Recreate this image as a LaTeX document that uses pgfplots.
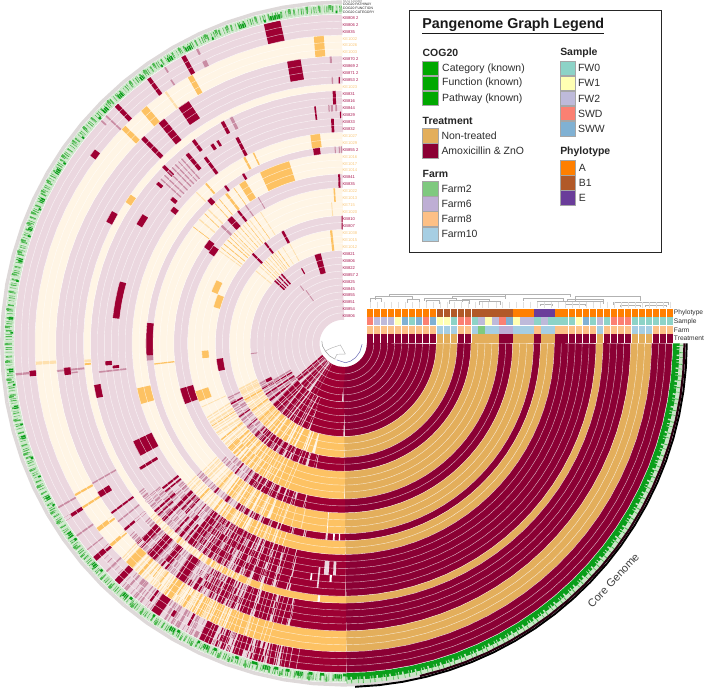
\documentclass[border=0pt]{standalone}
\usepackage{pgfplots}
\pgfplotsset{compat=1.18}
\usepackage{pgfplotstable}
\usepackage{fontspec}
\setmainfont{Liberation Sans}
\definecolor{mar}{HTML}{9E0033}
\definecolor{lm}{HTML}{C98CA3}
\definecolor{ora}{HTML}{FDC263}
\definecolor{lo}{HTML}{FEE0AE}
\definecolor{pk}{HTML}{EBD7DF}
\definecolor{cr}{HTML}{FFF5E5}
\definecolor{cmar}{HTML}{8B0034}
\definecolor{cora}{HTML}{E3AE5B}
\definecolor{gd}{HTML}{0A9E1A}
\definecolor{gm}{HTML}{4DB850}
\definecolor{gl}{HTML}{C9E6C6}
\definecolor{gb}{HTML}{EDF3EC}
\definecolor{rim}{HTML}{DED9D9}
\definecolor{s0}{HTML}{8DD3C7}
\definecolor{s1}{HTML}{FFFFB3}
\definecolor{s2}{HTML}{BEBADA}
\definecolor{s3}{HTML}{FB8072}
\definecolor{s4}{HTML}{80B1D3}
\definecolor{f2}{HTML}{7FC97F}
\definecolor{f6}{HTML}{BEAED4}
\definecolor{f8}{HTML}{FDC086}
\definecolor{f0}{HTML}{A6CEE3}
\definecolor{pa}{HTML}{FF7F00}
\definecolor{pb}{HTML}{B15928}
\definecolor{pe}{HTML}{6A3D9A}
\definecolor{kbc}{HTML}{A8164F}
\definecolor{kec}{HTML}{F9C77A}
\definecolor{tx}{HTML}{2E2E2E}
\pgfplotstableread[row sep=\\]{t\\90.2\\94\\98\\102\\106\\110\\114\\118\\122\\126\\130\\134\\138\\142\\146\\150\\154\\158\\162\\166\\170\\174\\178\\182\\186\\190\\194\\198\\202\\206\\210\\214\\218\\222\\226\\230\\234\\238\\242\\246\\250\\254\\258\\262\\266\\270\\272\\}\angA
\pgfplotstableread[row sep=\\]{t\\270.6\\274\\278\\282\\286\\290\\294\\298\\302\\306\\310\\314\\318\\322\\326\\330\\334\\338\\342\\346\\350\\354\\358\\360\\}\angB
\pgfplotstableread[row sep=\\]{t\\272\\276\\280\\284\\288\\292\\296\\300\\304\\308\\312\\316\\320\\324\\328\\332\\336\\340\\344\\348\\352\\356\\360\\}\angD
\pgfplotstableread[row sep=\\]{t\\283\\287\\291\\295\\299\\303\\307\\311\\315\\319\\323\\327\\331\\335\\339\\343\\347\\351\\355\\360\\}\angE
\pgfplotstableread[row sep=\\]{t\\90.2\\94\\98\\102\\106\\110\\114\\118\\122\\126\\130\\134\\138\\142\\146\\150\\154\\158\\162\\166\\170\\174\\178\\182\\186\\190\\194\\198\\202\\206\\210\\214\\218\\222\\226\\230\\234\\238\\242\\246\\250\\254\\258\\262\\266\\270\\274\\278\\282\\286\\290\\294\\298\\302\\306\\310\\314\\318\\322\\326\\330\\334\\338\\342\\346\\350\\354\\358\\360\\}\angF
\pgfplotsset{seg/.style={forget plot,no markers,data cs=polar}}
\def\pA{on 1.1pt off 1.6pt on 0.6pt off 2.3pt on 1.8pt off 1.2pt on 0.5pt off 3pt}
\def\pB{on 0.7pt off 2.1pt on 1.3pt off 0.9pt on 0.5pt off 1.7pt on 2.2pt off 1.5pt on 0.8pt off 4pt}
\def\pC{on 0.5pt off 3.2pt on 0.9pt off 5.1pt on 0.6pt off 2.2pt on 1.2pt off 7pt}
\def\pD{on 1.6pt off 0.8pt on 0.9pt off 1.1pt on 2.4pt off 0.7pt on 0.6pt off 1.3pt}
\def\pE{on 0.4pt off 4.3pt on 0.6pt off 6.7pt on 0.4pt off 3.1pt}
% one block of rings #1..#2, colour #3, list of angle spans #4
\newcommand\rband[4]{%
 \pgfmathsetmacro\rr{23.5+6.9*(#1+#2+1)/2}%
 \pgfmathsetmacro\ww{6.9*(#2-#1+1)}%
 \rawarc{\rr}{\ww}{#3}{#4}}
\newcommand\rawarc[4]{%
 \foreach \ta/\tb in {#4}{%
  \pgfmathsetmacro\ma{\ta+(\tb-\ta)/4}%
  \pgfmathsetmacro\mb{\ta+(\tb-\ta)/2}%
  \pgfmathsetmacro\mc{\ta+3*(\tb-\ta)/4}%
  \pgfmathparse{(\tb-\ta)>3?1:0}%
  \ifnum\pgfmathresult=1
   \edef\tmp{\noexpand\addplot[seg,draw=#3,line width=#2pt] coordinates {(\ta,#1)(\ma,#1)(\mb,#1)(\mc,#1)(\tb,#1)};}\tmp
  \else
   \edef\tmp{\noexpand\addplot[seg,draw=#3,line width=#2pt] coordinates {(\ta,#1)(\tb,#1)};}\tmp
  \fi}}
% fine radial texture over a span: rings #1..#2, colour #3, pattern #4, span #5/#6
\newcommand\hband[6]{%
 \pgfmathsetmacro\rr{23.5+6.9*(#1+#2+1)/2}%
 \pgfmathsetmacro\ww{6.9*(#2-#1+1)}%
 \hraw{\rr}{\ww}{#3}{#4}{#5}{#6}}
\newcommand\hraw[6]{%
 \pgfmathsetmacro\ma{#5+(#6-#5)/4}%
 \pgfmathsetmacro\mb{#5+(#6-#5)/2}%
 \pgfmathsetmacro\mc{#5+3*(#6-#5)/4}%
 \edef\tmp{\noexpand\addplot[seg,draw=#3,line width=#2pt,dash pattern=#4] coordinates {(#5,#1)(\ma,#1)(\mb,#1)(\mc,#1)(#6,#1)};}\tmp}
\newcommand\base[4]{%
 \pgfmathsetmacro\rr{23.5+6.9*(#1+#2+1)/2}%
 \pgfmathsetmacro\ww{6.9*(#2-#1+1)}%
 \edef\tmp{\noexpand\addplot[seg,draw=#3,line width=\ww pt] table[x=t,y=t,y expr=\rr]{\noexpand\angA};}\tmp
 \edef\tmp{\noexpand\addplot[seg,draw=#4,line width=\ww pt] table[x=t,y=t,y expr=\rr]{\noexpand\angB};}\tmp}
\newcommand\cellrow[2]{\foreach \c [count=\i from 0] in {#2}{%
  \pgfmathsetmacro\xa{368.2+6.92*\i}\pgfmathsetmacro\xb{\xa+6.4}%
  \edef\tmp{\noexpand\addplot[forget plot,no markers,draw=\c,line width=8pt] coordinates {(\xa,#1)(\xb,#1)};}\tmp}}
\newcommand\kb[2]{\node[anchor=west,inner sep=0pt,font=\fontsize{4.1}{4.1}\selectfont,text=kbc] at (343.7,#1) {#2};}
\newcommand\ke[2]{\node[anchor=west,inner sep=0pt,font=\fontsize{4.1}{4.1}\selectfont,text=kec] at (343.7,#1) {#2};}
\newcommand\sw[5]{\draw[fill=#5,draw=black!35,line width=.6pt] (#1,#2) rectangle (#3,#4);}
\newcommand\lt[3]{\node[anchor=west,inner sep=0pt,font=\fontsize{10.4}{11}\selectfont,text=tx] at (#1,#2) {#3};}
\newcommand\lh[3]{\node[anchor=west,inner sep=0pt,font=\fontsize{10.4}{11}\selectfont\bfseries,text=black!85] at (#1,#2) {#3};}
\newcommand\br[4]{\addplot[forget plot,no markers,draw=black!30,line width=.35pt] coordinates {(#1,#4)(#1,#3)(#2,#3)(#2,#4)};}
\begin{document}
\begin{tikzpicture}
\begin{axis}[at={(0pt,0pt)},anchor=south west,scale only axis,width=704pt,height=690pt,
  xmin=-344.5,xmax=359.5,ymin=-347.5,ymax=342.5,hide axis]
% base rings: pale where absent, dark in the core
\base{0}{9}{pk}{cmar}
\base{10}{12}{cr}{cora}
\base{13}{14}{pk}{cmar}
\base{15}{18}{cr}{cora}
\base{19}{20}{pk}{cmar}
\base{21}{23}{cr}{cora}
\base{24}{24}{pk}{cmar}
\base{25}{26}{cr}{cora}
\base{27}{32}{pk}{cmar}
\base{33}{33}{cr}{cora}
\base{34}{37}{pk}{cmar}
\base{38}{40}{cr}{cora}
\base{41}{43}{pk}{cmar}
% fine texture of the shell genome, group by group
\hband{43}{43}{lm}{\pC}{226}{248}\hband{42}{42}{lm}{\pE}{222}{246}\hband{41}{41}{lm}{\pC}{228}{250}
\hband{43}{43}{mar}{\pA}{246}{259}\hband{42}{42}{mar}{\pB}{244}{259}\hband{41}{41}{mar}{\pA}{247}{259}
\hband{38}{40}{lo}{\pA}{224}{252}\hband{38}{39}{ora}{\pC}{230}{246}\hband{40}{40}{ora}{\pE}{232}{246}\hband{38}{40}{ora}{\pB}{240}{252}
\hband{37}{37}{lm}{\pB}{222}{248}\hband{36}{36}{lm}{\pA}{224}{248}\hband{35}{35}{lm}{\pB}{224}{250}\hband{34}{34}{lm}{\pA}{222}{248}
\hband{37}{37}{mar}{\pA}{236}{260}\hband{36}{36}{mar}{\pD}{240}{260}\hband{35}{35}{mar}{\pB}{238}{260}\hband{34}{34}{mar}{\pA}{240}{260}
\hband{33}{33}{lo}{\pB}{222}{252}\hband{33}{33}{ora}{\pA}{238}{252}
\hband{32}{32}{lm}{\pA}{216}{245}\hband{31}{31}{lm}{\pB}{218}{245}\hband{30}{30}{lm}{\pA}{218}{245}\hband{29}{29}{lm}{\pB}{220}{245}\hband{28}{28}{lm}{\pA}{222}{245}\hband{27}{27}{lm}{\pB}{220}{245}
\hband{32}{32}{mar}{\pA}{232}{258}\hband{31}{31}{mar}{\pD}{234}{258}\hband{30}{30}{mar}{\pB}{232}{258}\hband{29}{29}{mar}{\pD}{234}{258}\hband{28}{28}{mar}{\pA}{232}{258}\hband{27}{27}{mar}{\pD}{236}{258}
\hband{25}{26}{lo}{\pA}{222}{251}\hband{25}{26}{ora}{\pB}{234}{251}
\hband{24}{24}{lm}{\pB}{222}{250}\hband{24}{24}{mar}{\pA}{238}{260}
\hband{21}{23}{lo}{\pB}{222}{247}\hband{21}{23}{ora}{\pA}{232}{247}
\hband{20}{20}{lm}{\pA}{224}{245}\hband{19}{19}{lm}{\pB}{226}{245}\hband{20}{20}{mar}{\pD}{236}{257}\hband{19}{19}{mar}{\pA}{236}{257}
\hband{15}{18}{lo}{\pA}{208}{244}\hband{17}{18}{ora}{\pB}{222}{244}\hband{15}{16}{ora}{\pA}{224}{244}
\hband{14}{14}{lm}{\pB}{206}{240}\hband{13}{13}{lm}{\pA}{208}{240}\hband{14}{14}{mar}{\pA}{226}{258}\hband{13}{13}{mar}{\pD}{228}{258}
\hband{10}{12}{lo}{\pD}{203}{240}\hband{10}{12}{ora}{\pA}{222}{255}
\hband{8}{9}{lm}{\pD}{205}{235}\hband{5}{7}{lm}{\pD}{207}{235}\hband{8}{9}{mar}{\pD}{222}{248}\hband{5}{7}{mar}{\pD}{220}{248}
% rings 41-43
\rband{41}{43}{lm}{185.2/185.6,209.8/210.1,215.7/216,218.8/219,223.8/224.1,228.5/228.8,230.6/230.9,231.8/232,237/237.3,238.3/238.6,239.5/240,242/242.4,136/136.3}
\rband{41}{43}{mar}{101/104,118.7/119.5,125.9/126.6,133.2/134,212/212.6,220.5/221.4,226/227.1,233/233.4,234.3/236,241/241.4,244/246.2,248/248.7,250.3/252.7,254/255.4,256.5/258,258.8/270.6}
\rband{41}{41}{mar}{142/143.4,185/186}
\rband{41}{41}{lm}{115.8/116.6,123/123.3,229.6/230.2}
\rband{43}{43}{lm}{116.2/116.6,122.7/123,137.2/137.5,243/243.6}
\rband{42}{42}{mar}{237.6/238.2,247.6/248}
\rband{43}{43}{pk}{212/212.6,233/233.4,241/241.4,252/252.7}
\rband{41}{41}{pk}{220.5/220.9,254.6/255.1}
% rings 38-40
\rband{38}{40}{lo}{125/125.4,183.4/184}
\rband{38}{40}{ora}{93.6/95.5,119.3/120.3,129.6/131,135/136,209.3/209.7,212/212.4,216.8/217.6,220.7/221.3,225.2/226.8,228.3/228.8,234.5/236.1,238.5/239,242/242.6,245/245.8,248/251,251.6/270.6}
\rband{38}{38}{cr}{216.8/217.2,220.7/221,238.5/238.8}
% rings 34-37
\rband{35}{37}{mar}{98.5/101.3,122.5/125}
\rband{37}{37}{lm}{92.3/92.7}
\rband{34}{34}{lm}{92.2/92.5}
\rband{34}{34}{mar}{90.7/91,150.2/152.8}
\rband{34}{37}{lm}{185.3/185.7,209/209.3,218.2/218.5}
\rband{34}{37}{mar}{128.5/130,133.8/134.7,216/216.4,220.2/220.7,224/225.5,227/229,230.5/232,234.3/236.5,238.5/239.2,241/241.6,244/245.2,246.8/247.4,248.8/251,252/255,255.8/258.6,259.4/270.6}
\rband{36}{37}{mar}{211.2/212.4}
\rband{36}{36}{mar}{185/186.5}
\rband{35}{35}{lm}{186/186.3}
\rband{34}{35}{pk}{220.2/220.7,238.5/239.2,246.8/247.2}
\rband{37}{37}{pk}{224.4/225,231/231.5,241/241.6}
% ring 33
\rband{33}{33}{lo}{183.6/184.2}
\rband{33}{33}{ora}{145/147,184.4/184.8,230/230.4,236/236.4,238.2/238.6,242.5/243,246/247.5,249/251,252/270.6}
\rband{33}{33}{white}{264.3/264.8}
% rings 27-32
\rband{31}{32}{mar}{91.7/92.4,118.2/119,126/126.8,135/135.8}
\rband{31}{32}{lm}{116/116.7}
\rband{30}{30}{lm}{91.5/91.9,92.5/93,93.3/93.6}
\rband{29}{30}{mar}{96.6/97}
\rband{29}{29}{mar}{90.5/90.8,164.5/173.7,185.5/186.2}
\rband{27}{28}{mar}{92.4/93.1}
\rband{29}{31}{mar}{129/129.9}
\rband{30}{30}{mar}{121.5/122.1,123/123.8,147.2/150,184.3/185.3}
\rband{27}{29}{mar}{116.9/117.7,126.2/127,205/209}
\rband{28}{31}{lm}{131/131.3,132/132.2,133/133.3,134/134.3,135.3/135.6,136.6/136.9,137.8/138.1,186.5/186.9}
\rband{27}{27}{mar}{141.1/142.5}
\rband{28}{28}{mar}{139.3/140.3}
\rband{31}{31}{mar}{138.8/139.6}
\rband{32}{32}{mar}{189.5/192.5}
\rband{28}{30}{mar}{211.3/212}
\rband{27}{32}{mar}{218.5/219,221.5/222,224/224.8,226.8/227.4,229.5/230.2,232/233.5,235.2/235.8,237.8/238.4,240/241,242.5/243.3,244.6/245.6,246.8/248,249/250.6,251.6/253.5,254.4/257,257.8/270.6}
\rband{30}{32}{pk}{218.5/219,226.8/227.4,235.4/235.8,242.7/243.3}
\rband{27}{28}{pk}{221.5/222,229.7/230.2,237.8/238.2,246.9/247.4}
\rband{27}{29}{mar}{219.6/220,225.6/226,234.1/234.5,241.5/241.9,246.1/246.4}
\rband{30}{32}{mar}{222.7/223,228.1/228.5,231.1/231.5,236.4/236.9}
\rband{28}{29}{pk}{265.2/266.4,267.5/268.2}
\rband{29}{31}{pk}{263.8/264.2}
\rband{30}{30}{white}{262/262.4,266.7/267.2}
% rings 25-26
\rband{25}{26}{lo}{134/134.3}
\rband{25}{26}{ora}{96.3/99,115/115.4,117.7/118.3,130.4/130.9,192.3/196.7,227/227.5,232/232.6,236.5/237,240/241,243/244.6,246/247.4,248.6/250,251/270.6}
% ring 24
\rband{24}{24}{lm}{90.4/90.7,91/91.3,92.2/92.5,183.5/185}
\rband{24}{24}{mar}{96.8/98.8,120.2/120.9,126.5/127.2,132.2/133.6,174/183.5,229/229.5,233/233.8,236.8/237.6,240/240.6,243/243.8,245.8/247,248.4/250,251.4/254,255.3/258,259/270.6}
\rband{24}{24}{white}{267/267.5,268.7/269.1}
\rband{24}{24}{pk}{264.8/265.4}
% rings 21-23
\rband{21}{23}{lo}{135/135.4,139/139.4}
\rband{21}{23}{ora}{106.5/116,121/123.2,125/125.2,127.6/128.4,130.6/130.8,132.4/132.6,136.8/137,142/142.2,186/186.4,229/229.5,233/233.6,237/237.5,240/240.8,242.6/243.5,245/246.3,247.2/270.6}
\rband{21}{23}{lo}{251/251.3,254/254.2,257/257.3}
\rband{21}{23}{white}{265/265.2}
% rings 19-20
\rband{20}{20}{mar}{142.3/145.3}
\rband{19}{19}{mar}{143/146}
\rband{19}{20}{lm}{125/125.4,135.5/136.3,120/120.3}
\rband{19}{20}{mar}{91/91.7,128/128.8,131.2/133.2,195.5/201,230/230.5,234/234.4,236.5/237.3,239.4/240.2,241.8/243,244.3/245.8,247/248.5,249.6/252.2,253.2/256,256.9/270.6}
% rings 15-18
\rband{17}{18}{ora}{93/93.6,198/202}
\rband{15}{16}{lo}{94.5/94.9}
\rband{16}{16}{ora}{153.5/158.5,183/186}
\rband{15}{15}{ora}{158.7/164.3}
\rband{15}{18}{lo}{122/122.3,127/127.3,130/130.3,133/133.3,135.5/135.8,143/143.3,204/204.3}
\rband{15}{18}{ora}{125/125.2,128.6/128.8,131.5/131.7,134.6/134.8,136.8/137,138/138.3,140/140.3,141.8/142,212/212.3,218/218.5,222.3/223,226/226.8,229/230,232.2/233.6,235.5/236.7,238/239.5,240.8/242.6,243.7/270.6}
% rings 13-14
\rband{14}{14}{mar}{187/192.5}
\rband{13}{14}{lm}{205/205.6,212/212.4}
\rband{13}{14}{mar}{90.3/90.7,117.8/119,127.4/128.3,134.8/135.8,208/208.7,215/215.5,221/221.6,226.5/227.2,230/230.8,233.2/234.4,236.4/237.6,239.5/241,242.6/244.5,246/248.4,249.8/252.5,254/256.6,257.8/270.6}
% rings 10-12
\rband{10}{12}{lo}{118/118.4,122/122.3,128/128.4,131/131.4,134/134.4,137/137.4,140/140.5,205/205.6}
\rband{10}{12}{ora}{95.5/96.7,125/125.3,127/127.2,129.5/129.7,133/133.2,135.6/135.8,209.5/210.3,216/216.7,222/223,226/227,230/231.3,234/235.5,237.5/239.8,241.6/244.5,246/249,250.6/254,255.4/270.6}
% rings 0-9
\rband{7}{9}{mar}{104/108}
\rband{8}{9}{mar}{131.2/132.2,133.5/134.2,135.6/136.2,137/138}
\rband{8}{8}{mar}{118.6/119.4,205/207}
\rband{6}{6}{lm}{126.3/127}
\rband{4}{5}{lm}{124.6/125.4}
\rband{9}{9}{lm}{186/186.6}
\rband{5}{9}{mar}{209/210,213/214,217/218.5,221/222.5,224.5/226.5,228.5/231,233/236,237.8/241,242.6/247,248.4/270.6}
\rband{0}{4}{mar}{214/270.6}
\rband{0}{4}{lm}{217.5/218,220/220.6,223/223.4,226/226.5,229/229.5,232/232.4,235/235.3,238/238.3,242/242.3}
% thin pale rays through the blocks of the shell
\hband{41}{43}{pk}{\pE}{240}{262}\hband{34}{37}{pk}{\pE}{224}{258}\hband{27}{32}{pk}{\pE}{224}{256}
\hband{19}{20}{pk}{\pE}{228}{254}\hband{13}{14}{pk}{\pE}{214}{254}\hband{5}{9}{pk}{\pC}{209}{246}\hband{0}{4}{pk}{\pC}{216}{240}
\hband{38}{40}{cr}{\pE}{228}{256}\hband{25}{26}{cr}{\pE}{230}{254}\hband{21}{23}{cr}{\pE}{230}{252}\hband{15}{18}{cr}{\pE}{224}{250}\hband{10}{12}{cr}{\pC}{226}{252}
% COG rows
\rawarc{332.2}{9.6}{gb}{90.2/110,110/130,130/150,150/170,170/190,190/210,210/230,230/250,250/271}
\addplot[seg,draw=gl,line width=9.4pt,dash pattern=on 0.6pt off 0.5pt on 1pt off 0.4pt on 0.5pt off 0.8pt] table[x=t,y=t,y expr=332.2]{\angA};
\addplot[seg,draw=gm,line width=6pt,dash pattern=on 0.6pt off 1.1pt on 1pt off 2pt on 0.5pt off 3.4pt on 1.6pt off 2.6pt] table[x=t,y=t,y expr=332.5]{\angA};
\rawarc{334}{5}{gm}{92/92.5,94/94.3,96/96.4,99/99.4,105/105.3,110/110.3,112/112.4,114/114.4,119/119.3,124/124.4,126/126.3,129/129.3,134/134.3,138/138.3,140/140.4,143/143.3,146/146.5,151/151.3,153/153.3,157/157.4,159/159.3,162/162.3,164/164.4,168/168.3,171/171.3,174/174.3,177/177.4,180/180.3,183/183.3,186/186.4,189/189.3,193/193.3,199/199.4,202/202.3,205/205.4,210/210.4,212/212.3,217/217.4,219/219.3,224/224.4,226/226.5,231/231.4,233/233.3,236/236.4,241/241.3,243/243.4,248/248.4,250/250.3,253/253.3,259/259.3,264/264.4,267/267.3}
\rawarc{331}{4.4}{gd}{100.8/102.8,107/108.2,117/118.2,120.8/121.8,126.7/127.5,131.3/132.4,135/136,148.3/149.4,154.2/155,159.6/160.2,165.2/166,175.4/176,184.3/185,190.7/191.3,196/196.7,207.2/208,214.5/215.5,221.2/222.2,228.6/229.6,238.6/239.6,245.2/246.2,256/257.2,261.8/263,268.5/269.8}
\addplot[seg,draw=gl,line width=5pt,dash pattern=on 0.4pt off 2pt on 0.3pt off 1.4pt] table[x=t,y=t,y expr=331]{\angA};
\rawarc{329.5}{2.6}{gd}{91/91.3,103.5/103.8,113/113.3,123/123.3,137/137.4,141.5/141.8,147/147.3,156/156.3,161/161.3,169/169.3,178/178.3,187/187.3,194/194.3,200/200.4,203.5/203.8,209/209.3,216/216.4,223/223.4,230/230.5,235/235.4,240/240.5,244/244.4,247/247.6,251/251.6,254/255,258/258.7,260/260.7,264/264.7,266/266.7,270/270.6}
\rawarc{339.2}{3.6}{rim}{90.2/110,110/130,130/150,150/170,170/190,190/210,210/230,230/250,250/270,270/283}
% core side of the COG rows
\addplot[seg,draw=gd,line width=7pt] table[x=t,y=t,y expr=331]{\angB};
\addplot[seg,draw=gl,line width=3pt,dash pattern=on 0.8pt off 3pt on 1.5pt off 5pt on 0.6pt off 2pt] table[x=t,y=t,y expr=333]{\angB};
\addplot[seg,draw=gl,line width=3.8pt] table[x=t,y=t,y expr=336.2]{\angB};
\addplot[seg,draw=gm,line width=3.8pt,dash pattern=on 0.5pt off 4pt on 0.8pt off 6.3pt] table[x=t,y=t,y expr=336.2]{\angB};
\addplot[seg,draw=black!70!cmar,line width=2.2pt] table[x=t,y=t,y expr=339.2]{\angE};
\addplot[seg,draw=black,line width=1.9pt] table[x=t,y=t,y expr=341.4]{\angD};
% ring separators
\foreach \q in {1,...,44}{%
 \pgfmathsetmacro\rs{23.5+6.9*\q}%
 \edef\tmp{\noexpand\addplot[seg,draw=white,line width=.42pt,opacity=.7] table[x=t,y=t,y expr=\rs]{\noexpand\angF};}\tmp}
\end{axis}
\begin{axis}[at={(0pt,0pt)},anchor=south west,scale only axis,width=704pt,height=690pt,
  xmin=0,xmax=704,ymin=0,ymax=690,y dir=reverse,hide axis,clip=false]
% inner dendrogram
\addplot[forget plot,no markers,draw=black!40,line width=.5pt] coordinates {(323.3,340)(323.9,345)(326.7,350)(331,355)(336.7,358.3)};
\addplot[forget plot,no markers,draw=blue!50!black!60,line width=.5pt] coordinates {(338,358.8)(346.7,361.7)(352,360)(356.7,356.7)(361,351)(363.3,343.3)};
\addplot[forget plot,no markers,draw=black!30,line width=.45pt] coordinates {(326.7,350)(333,347)(341.7,344)(346.7,353)(338.3,353.3)(336,358)};
% gene-cluster tree over the columns
\br{390}{505}{293.3}{296}
\br{376.7}{413}{296}{299}
\br{371}{382}{298}{301}
\br{408}{420}{299}{302}
\br{425}{457}{297.3}{300}
\br{427}{440}{300}{303}
\br{450}{470}{300}{303}
\br{453}{505}{296}{298}
\br{463}{490}{298.5}{301}
\br{480}{500}{301}{304}
\br{505}{570}{293.8}{296}
\br{523}{563}{297.3}{300}
\br{537}{603}{300.7}{303}
\br{540}{552}{303}{305}
\br{565}{585}{303.3}{305}
\br{567}{603}{299}{301}
\br{613}{667}{301.7}{304}
\br{620}{640}{304}{306}
\br{645}{665}{304}{306}
\br{575}{640}{296}{300}
\foreach \xc in {371.4,378.3,385.2,392.2,399.1,406,412.9,419.8,426.8,433.7,440.6,447.5,454.4,461.4,468.3,475.2,482.1,489,496,502.9,509.8,516.7,523.6,530.6,537.5,544.4,551.3,558.2,565.2,572.1,579,585.9,592.8,599.8,606.7,613.6,620.5,627.4,634.4,641.3,648.2,655.1,662,669}{%
 \edef\tmp{\noexpand\addplot[forget plot,no markers,draw=black!12,line width=.3pt] coordinates {(\xc,301)(\xc,307.5)};}\tmp}
% column annotation rows
\cellrow{312}{pa,pa,pa,pa,pa,pa,pa,pa,pa,pa,pb,pb,pb,pb,pb,pb,pb,pb,pb,pb,pb,pa,pa,pa,pe,pe,pe,pa,pa,pa,pa,pa,pa,pa,pa,pa,pa,pa,pa,pa,pa,pa,pa,pa}
\cellrow{320.6}{s3,s2,s2,s2,s1,s4,s0,s4,s3,s4,s1,s1,s0,s3,s3,s0,s2,s1,s2,s3,s4,s1,s2,s2,s0,s2,s0,s0,s0,s0,s1,s4,s0,s2,s0,s3,s3,s3,s0,s0,s0,s0,s0,s0}
\cellrow{329.2}{f8,f8,f8,f8,f8,f8,f8,f8,f8,f8,f0,f0,f0,f8,f8,f0,f2,f0,f0,f6,f6,f0,f0,f0,f8,f0,f0,f8,f8,f8,f8,f8,f8,f0,f8,f8,f8,f8,f0,f0,f0,f8,f8,f8}
\cellrow{337.6}{cmar,cmar,cmar,cmar,cmar,cmar,cmar,cmar,cmar,cmar,cora,cora,cora,cmar,cmar,cora,cora,cora,cora,cmar,cmar,cora,cora,cora,cmar,cora,cora,cmar,cmar,cmar,cmar,cmar,cmar,cora,cmar,cmar,cmar,cmar,cora,cora,cora,cmar,cmar,cmar}
\node[anchor=west,inner sep=0pt,font=\fontsize{6.6}{7}\selectfont,text=tx] at (673,312) {Phylotype};
\node[anchor=west,inner sep=0pt,font=\fontsize{6.6}{7}\selectfont,text=tx] at (673,320.6) {Sample};
\node[anchor=west,inner sep=0pt,font=\fontsize{6.6}{7}\selectfont,text=tx] at (673,329.2) {Farm};
\node[anchor=west,inner sep=0pt,font=\fontsize{6.6}{7}\selectfont,text=tx] at (673,337.6) {Treatment};
% genome names
\kb{18.9}{KB808 2}\kb{25.8}{KB806 2}\kb{32.7}{KB835}
\ke{39.6}{KE1002}\ke{46.5}{KE1026}\ke{53.4}{KE1003}
\kb{60.3}{KB870 2}\kb{67.2}{KB869 2}\kb{74.1}{KB871 2}\kb{81}{KB853 2}
\ke{87.9}{KE1023}
\kb{94.8}{KB831}\kb{101.7}{KB816}\kb{108.6}{KB844}\kb{115.5}{KB829}\kb{122.4}{KB833}\kb{129.3}{KB832}
\ke{136.2}{KE1027}\ke{143.1}{KE1029}
\kb{150}{KB855 2}
\ke{156.9}{KE1016}\ke{163.8}{KE1017}\ke{170.7}{KE1014}
\kb{177.6}{KB841}\kb{184.5}{KB835}
\ke{191.4}{KE1022}\ke{198.3}{KE1013}\ke{205.2}{KE715}\ke{212.1}{KE1020}
\kb{219}{KB810}\kb{225.9}{KB807}
\ke{232.8}{KE1038}\ke{239.7}{KE1015}\ke{246.6}{KE1012}
\kb{253.5}{KB821}\kb{260.4}{KB806}\kb{267.3}{KB822}\kb{274.2}{KB857 2}\kb{281.1}{KB825}\kb{288}{KB845}\kb{294.9}{KB855}\kb{301.8}{KB851}\kb{308.7}{KB854}\kb{315.6}{KB806}
\node[anchor=west,inner sep=0pt,font=\fontsize{3.4}{3.4}\selectfont,text=black!55] at (344,2.5) {SCG Cluster};
\node[anchor=west,inner sep=0pt,font=\fontsize{3.4}{3.4}\selectfont,text=black!85] at (344,6) {COG20 PATHWAY};
\node[anchor=west,inner sep=0pt,font=\fontsize{3.4}{3.4}\selectfont,text=black!85] at (344,9.6) {COG20 FUNCTION};
\node[anchor=west,inner sep=0pt,font=\fontsize{3.4}{3.4}\selectfont,text=black!85] at (344,13.2) {COG20 CATEGORY};
\node[rotate=47,inner sep=0pt,font=\fontsize{11}{12}\selectfont,text=black!75] at (613,578) {Core Genome};
% legend
\draw[draw=black!85,line width=.9pt,fill=white] (410,11.7) rectangle (660.7,251.7);
\node[anchor=west,inner sep=0pt,font=\fontsize{14.2}{15}\selectfont\bfseries,text=black!90] at (423,27) {\underline{Pangenome Graph Legend}};
\lh{423.3}{54}{COG20}
\sw{423.3}{61.7}{439}{76}{green!66!black}\sw{423.3}{76.7}{439}{91}{green!66!black}\sw{423.3}{91.7}{439}{106}{green!66!black}
\lt{442.7}{69.3}{Category (known)}\lt{442.7}{84}{Function (known)}\lt{442.7}{99}{Pathway (known)}
\lh{423.3}{121.7}{Treatment}
\sw{423.3}{128.3}{438.7}{143.3}{cora}\sw{423.3}{144}{438.7}{158.3}{cmar}
\lt{442}{136}{Non-treated}\lt{442}{151.5}{Amoxicillin \& ZnO}
\lh{423.3}{174}{Farm}
\sw{423.3}{181.7}{438.7}{196}{f2}\sw{423.3}{196.7}{438.7}{211}{f6}\sw{423.3}{211.7}{438.7}{226}{f8}\sw{423.3}{226.7}{438.7}{241}{f0}
\lt{442}{189}{Farm2}\lt{442}{204}{Farm6}\lt{442}{219}{Farm8}\lt{442}{234}{Farm10}
\lh{560}{54}{Sample}
\sw{560}{61.7}{575}{76}{s0}\sw{560}{76.7}{575}{91}{s1}\sw{560}{91.7}{575}{106}{s2}\sw{560}{106.7}{575}{121}{s3}\sw{560}{121.7}{575}{136.5}{s4}
\lt{577.7}{69}{FW0}\lt{577.7}{84}{FW1}\lt{577.7}{99}{FW2}\lt{577.7}{114}{SWD}\lt{577.7}{129}{SWW}
\lh{560}{151.7}{Phylotype}
\sw{560}{160.7}{575}{175}{pa}\sw{560}{175.7}{575}{190}{pb}\sw{560}{190.7}{575}{205}{pe}
\lt{578.5}{168}{A}\lt{578.5}{183}{B1}\lt{578.5}{198}{E}
\end{axis}
\end{tikzpicture}
\end{document}
